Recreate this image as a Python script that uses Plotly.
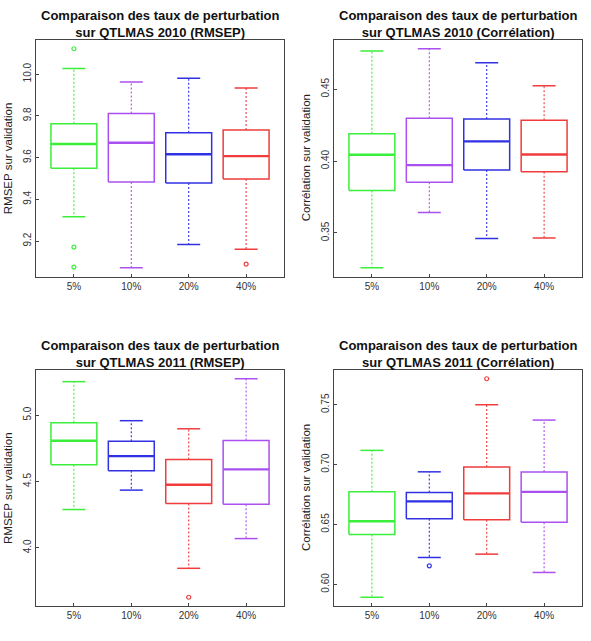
import plotly.graph_objects as go

W, H = 591, 641

categories = ["5%", "10%", "20%", "40%"]

# Panel 1: QTLMAS 2010 RMSEP
p1_colors = ["#3aee3a", "#ab50f0", "#3030e4", "#f03c3c"]
p1_low = [9.316, 9.072, 9.183, 9.161]
p1_q1 = [9.549, 9.483, 9.478, 9.497]
p1_med = [9.665, 9.671, 9.616, 9.607]
p1_q3 = [9.762, 9.812, 9.719, 9.733]
p1_high = [10.027, 9.963, 9.981, 9.934]
p1_out = [[10.122, 9.171, 9.075], [], [], [9.089]]
p1_ticks = [9.2, 9.4, 9.6, 9.8, 10.0]

# Panel 2: QTLMAS 2010 Corrélation
p2_colors = ["#3aee3a", "#ab50f0", "#3030e4", "#f03c3c"]
p2_low = [0.3258, 0.3642, 0.3462, 0.3464]
p2_q1 = [0.3795, 0.3853, 0.3937, 0.3925]
p2_med = [0.4044, 0.3972, 0.4137, 0.4046]
p2_q3 = [0.4190, 0.4298, 0.4293, 0.4284]
p2_high = [0.4765, 0.4781, 0.4684, 0.4523]
p2_out = [[], [], [], []]
p2_ticks = [0.35, 0.40, 0.45]

# Panel 3: QTLMAS 2011 RMSEP
p3_colors = ["#3aee3a", "#3030e4", "#f03c3c", "#ab50f0"]
p3_low = [4.289, 4.435, 3.846, 4.070]
p3_q1 = [4.626, 4.581, 4.335, 4.329]
p3_med = [4.807, 4.691, 4.475, 4.591]
p3_q3 = [4.943, 4.804, 4.666, 4.809]
p3_high = [5.252, 4.958, 4.897, 5.274]
p3_out = [[], [], [3.628], []]
p3_ticks = [4.0, 4.5, 5.0]

# Panel 4: QTLMAS 2011 Corrélation
p4_colors = ["#3aee3a", "#3030e4", "#f03c3c", "#ab50f0"]
p4_low = [0.5893, 0.6225, 0.6253, 0.6100]
p4_q1 = [0.6417, 0.6548, 0.6539, 0.6520]
p4_med = [0.6528, 0.6693, 0.6760, 0.6773]
p4_q3 = [0.6773, 0.6768, 0.6980, 0.6938]
p4_high = [0.7119, 0.6940, 0.7500, 0.7372]
p4_out = [[], [0.6155], [0.7717], []]
p4_ticks = [0.60, 0.65, 0.70, 0.75]

titles = [
    "Comparaison des taux de perturbation<br>sur QTLMAS 2010 (RMSEP)",
    "Comparaison des taux de perturbation<br>sur QTLMAS 2010 (Corrélation)",
    "Comparaison des taux de perturbation<br>sur QTLMAS 2011 (RMSEP)",
    "Comparaison des taux de perturbation<br>sur QTLMAS 2011 (Corrélation)",
]
ylabels = ["RMSEP sur validation", "Corrélation sur validation",
           "RMSEP sur validation", "Corrélation sur validation"]
tickfmt = [".1f", ".2f", ".1f", ".2f"]

panels = [
    (p1_colors, p1_low, p1_q1, p1_med, p1_q3, p1_high, p1_out, p1_ticks),
    (p2_colors, p2_low, p2_q1, p2_med, p2_q3, p2_high, p2_out, p2_ticks),
    (p3_colors, p3_low, p3_q1, p3_med, p3_q3, p3_high, p3_out, p3_ticks),
    (p4_colors, p4_low, p4_q1, p4_med, p4_q3, p4_high, p4_out, p4_ticks),
]

# plot frames in pixels (left, right, top, bottom)
frames = [(36, 284, 40, 276.5), (334, 582, 40, 276.5),
          (36, 284, 370, 606), (334, 582, 370, 606)]

FONT = "Liberation Sans, Arial, sans-serif"
fig = go.Figure()
annotations = []
layout = dict(width=W, height=H, margin=dict(l=0, r=0, t=0, b=0),
              paper_bgcolor="white", plot_bgcolor="white", showlegend=False,
              font=dict(family=FONT, color="#333333"))

bw = 0.4
cw = 0.2
for k, (cols, low, q1, med, q3, high, outs, ticks) in enumerate(panels):
    xa = "x" if k == 0 else f"x{k+1}"
    ya = "y" if k == 0 else f"y{k+1}"
    for i, c in enumerate(cols):
        xc = i + 1
        # box
        fig.add_trace(go.Scatter(x=[xc - bw, xc + bw, xc + bw, xc - bw, xc - bw],
                                 y=[q1[i], q1[i], q3[i], q3[i], q1[i]],
                                 mode="lines", line=dict(color=c, width=1.5),
                                 xaxis=xa, yaxis=ya, hoverinfo="skip"))
        # median
        fig.add_trace(go.Scatter(x=[xc - bw, xc + bw], y=[med[i], med[i]],
                                 mode="lines", line=dict(color=c, width=2.4),
                                 xaxis=xa, yaxis=ya, hoverinfo="skip"))
        # whiskers (dashed)
        fig.add_trace(go.Scatter(x=[xc, xc, None, xc, xc],
                                 y=[q3[i], high[i], None, q1[i], low[i]],
                                 mode="lines", line=dict(color=c, width=1.1, dash="2px,2px"),
                                 xaxis=xa, yaxis=ya, hoverinfo="skip"))
        # caps
        fig.add_trace(go.Scatter(x=[xc - cw, xc + cw, None, xc - cw, xc + cw],
                                 y=[high[i], high[i], None, low[i], low[i]],
                                 mode="lines", line=dict(color=c, width=1.5),
                                 xaxis=xa, yaxis=ya, hoverinfo="skip"))
        if outs[i]:
            fig.add_trace(go.Scatter(x=[xc] * len(outs[i]), y=outs[i], mode="markers",
                                     marker=dict(symbol="circle-open", size=4,
                                                 color=c, line=dict(width=1.2)),
                                     xaxis=xa, yaxis=ya, hoverinfo="skip"))
    allv = low + high + [v for o in outs for v in o]
    lo, hi = min(allv), max(allv)
    pad = 0.04 * (hi - lo)
    L, R, T, B = frames[k]
    xkey = "xaxis" if k == 0 else f"xaxis{k+1}"
    ykey = "yaxis" if k == 0 else f"yaxis{k+1}"
    layout[xkey] = dict(domain=[L / W, R / W], range=[0.34, 4.66],
                        tickvals=[1, 2, 3, 4], ticktext=categories,
                        ticks="inside", ticklen=3, tickcolor="#444",
                        showline=True, mirror=True, linecolor="#444", linewidth=1,
                        showgrid=False, zeroline=False, anchor=ya,
                        tickfont=dict(size=10, color="#333"))
    layout[ykey] = dict(domain=[1 - B / H, 1 - T / H], range=[lo - pad, hi + pad],
                        tickvals=ticks, tickformat=tickfmt[k], tickangle=-90,
                        ticks="inside", ticklen=3, tickcolor="#444",
                        showline=True, mirror=True, linecolor="#444", linewidth=1,
                        showgrid=False, zeroline=False, anchor=xa,
                        tickfont=dict(size=10, color="#333"))
    # title
    annotations.append(dict(text="<b>" + titles[k].replace("<br>", "</b><br><b>") + "</b>",
                            x=(L + R) / 2 / W, y=1 - (T + 2) / H,
                            xref="paper", yref="paper", xanchor="center", yanchor="bottom",
                            showarrow=False, font=dict(size=13, color="#111", family=FONT)))
    # y label
    annotations.append(dict(text=ylabels[k], x=(L - 28) / W, y=1 - ((T + B) / 2) / H,
                            xref="paper", yref="paper", xanchor="center", yanchor="middle",
                            textangle=-90, showarrow=False,
                            font=dict(size=11.5, color="#222", family=FONT)))

layout["annotations"] = annotations
fig.update_layout(**layout)
fig.write_html("out.html")
